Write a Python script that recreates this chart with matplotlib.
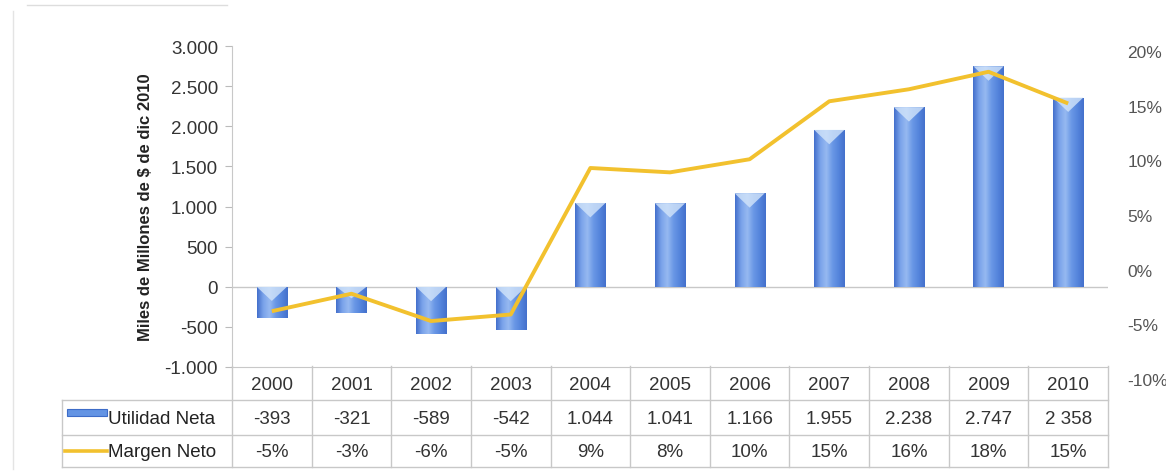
import numpy as np
import matplotlib.pyplot as plt
from matplotlib.colors import LinearSegmentedColormap
from matplotlib.patches import Polygon, Rectangle
from matplotlib.lines import Line2D

years = ["2000", "2001", "2002", "2003", "2004", "2005", "2006", "2007", "2008", "2009", "2010"]
utilidad = [-393, -321, -589, -542, 1044, 1041, 1166, 1955, 2238, 2747, 2358]
# margen as drawn by the line
margen = [-3.8, -2.2, -4.7, -4.1, 9.3, 8.9, 10.1, 15.4, 16.5, 18.1, 15.2]
utilidad_labels = ["-393", "-321", "-589", "-542", "1.044", "1.041", "1.166", "1.955", "2.238", "2.747", "2 358"]
margen_labels = ["-5%", "-3%", "-6%", "-5%", "9%", "8%", "10%", "15%", "16%", "18%", "15%"]
left_ticks = [-1000, -500, 0, 500, 1000, 1500, 2000, 2500, 3000]
right_ticks = [-10, -5, 0, 5, 10, 15, 20]

plt.rcParams['font.family'] = ['Liberation Sans', 'DejaVu Sans']

W, H = 1166, 477
BLUE = "#6394e4"
GOLD = "#f2c12e"
GRID = "#c8c8c8"


def fx(px):
    return px / W


def fy(py):
    return 1 - py / H


fig = plt.figure(figsize=(W / 100, H / 100), dpi=100)

# bars axes
ax = fig.add_axes([fx(232), fy(368), fx(1108) - fx(232), fy(47) - fy(368)])
x = np.arange(len(years))
ax.set_xlim(-0.5, len(years) - 0.5)
ax.set_ylim(-1000, 3000)

bar_w = 0.38
cmap = LinearSegmentedColormap.from_list(
    "bar", ["#4470cc", "#7aa3ea", "#96b9f1", "#6a98e6", "#5585dc", "#4470cc"])
grad = np.linspace(0, 1, 64).reshape(1, -1)
bars = ax.bar(x, utilidad, width=bar_w, color=BLUE, edgecolor="none", zorder=2)
for b, h in zip(bars, utilidad):
    x0 = b.get_x()
    x1 = x0 + b.get_width()
    lo, hi = min(0, h), max(0, h)
    im = ax.imshow(grad, extent=[x0, x1, lo, hi], aspect="auto", cmap=cmap, zorder=3)
    im.set_clip_path(b)
    depth = min(180, (hi - lo) * 0.45)
    ax.add_patch(Polygon([(x0, hi), (x1, hi), ((x0 + x1) / 2, hi - depth)],
                         closed=True, facecolor="#d3e5fa", edgecolor="none",
                         alpha=0.8, zorder=4))
ax.set_xlim(-0.5, len(years) - 0.5)
ax.set_ylim(-1000, 3000)

ax.axhline(0, color=GRID, lw=1, zorder=1)
for s in ["top", "right"]:
    ax.spines[s].set_visible(False)
ax.spines["left"].set_color(GRID)
ax.spines["bottom"].set_color(GRID)
ax.set_xticks([])
ax.set_yticks(left_ticks)
ax.set_yticklabels([f"{v:,.0f}".replace(",", ".") for v in left_ticks])
ax.tick_params(axis="y", length=5, color="#bbbbbb", labelcolor="#333333",
               labelsize=13.5, pad=5)
ax.set_ylabel("Miles de Millones de $ de dic 2010", fontsize=12, fontweight="bold",
              color="#222222", labelpad=8)
ax.patch.set_alpha(0)

# line axes (right scale)
ax2 = fig.add_axes([fx(232), fy(380), fx(1108) - fx(232), fy(52) - fy(380)])
ax2.set_xlim(-0.5, len(years) - 0.5)
ax2.set_ylim(-10, 20)
ax2.patch.set_alpha(0)
for s in ax2.spines.values():
    s.set_visible(False)
ax2.set_xticks([])
ax2.yaxis.tick_right()
ax2.set_yticks(right_ticks)
ax2.set_yticklabels([f"{v}%" for v in right_ticks])
ax2.tick_params(axis="y", length=0, labelcolor="#555555", labelsize=12.5, pad=14)
ax2.plot(x, margen, color=GOLD, lw=2.8, zorder=5, solid_capstyle="butt")


# data table under the chart
def col_fx(v):
    disp = ax.transData.transform((v, 0))
    return fig.transFigure.inverted().transform(disp)[0]


rows = [367, 401, 436, 468]
hdr_left = 62
right_edge = col_fx(len(years) - 0.5)
for r in rows[1:]:
    fig.add_artist(Line2D([fx(hdr_left), right_edge], [fy(r), fy(r)], color=GRID, lw=1))
fig.add_artist(Line2D([fx(hdr_left), fx(hdr_left)], [fy(rows[1]), fy(rows[3])], color=GRID, lw=1))
for i in range(len(years) + 1):
    cx = col_fx(i - 0.5)
    fig.add_artist(Line2D([cx, cx], [fy(rows[0]), fy(rows[3])], color=GRID, lw=1))

for i in range(len(years)):
    cx = col_fx(i)
    fig.text(cx, fy(386), years[i], ha="center", va="center", fontsize=13.5, color="#333333")
    fig.text(cx, fy(420), utilidad_labels[i], ha="center", va="center", fontsize=13.5, color="#333333")
    fig.text(cx, fy(453), margen_labels[i], ha="center", va="center", fontsize=13.5, color="#333333")

fig.add_artist(Rectangle((fx(67), fy(417)), fx(107) - fx(67), fy(410) - fy(417),
                         facecolor=BLUE, edgecolor="#3d6cc8", lw=0.8))
fig.add_artist(Line2D([fx(65), fx(107)], [fy(452), fy(452)], color=GOLD, lw=2.6))
fig.text(fx(108), fy(420), "Utilidad Neta", ha="left", va="center", fontsize=13.5, color="#222222")
fig.text(fx(108), fy(453), "Margen Neto", ha="left", va="center", fontsize=13.5, color="#222222")

# faint chart border from the scan
fig.add_artist(Line2D([fx(27), fx(227)], [fy(6), fy(6)], color="#dddddd", lw=1))
fig.add_artist(Line2D([fx(13), fx(13)], [fy(12), fy(470)], color="#e4e4e4", lw=1))

fig.savefig("out.png", dpi=100)
